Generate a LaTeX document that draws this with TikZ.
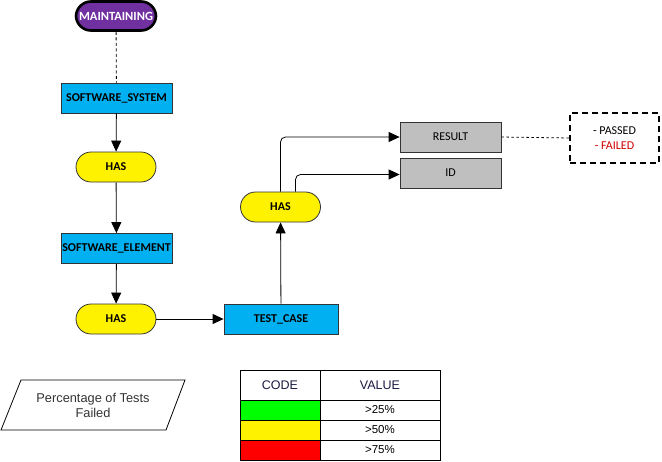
\documentclass[tikz,border=0pt]{standalone}
\usepackage{fontspec}
\setmainfont{Carlito}
\newfontfamily\arialfont{Liberation Sans}
\usetikzlibrary{arrows.meta}
\definecolor{mpurple}{HTML}{7030A0}
\definecolor{mblue}{HTML}{00B0F0}
\definecolor{mgray}{HTML}{BFBFBF}
\definecolor{mborder}{HTML}{333333}
\definecolor{mred}{HTML}{D00000}
\definecolor{navy}{HTML}{1A1A40}
\definecolor{txtgray}{HTML}{333333}
\tikzset{
  base/.style={draw=mborder, line width=0.8pt, inner sep=0pt, align=center,
    font=\fontsize{12}{14}\selectfont\bfseries},
  bluebox/.style={base, fill=mblue, minimum height=30pt},
  pill/.style={base, fill=yellow, rounded corners=15pt, minimum width=80pt, minimum height=30pt},
  graybox/.style={base, fill=mgray, minimum width=101pt, minimum height=30pt, font=\fontsize{12}{14}\selectfont},
  arr/.style={-{Triangle[length=11pt,width=10pt]}, line width=0.8pt, draw=black},
  cell/.style={draw=black, line width=0.8pt, inner sep=0pt, minimum width=80pt,
    font=\arialfont\fontsize{11.5}{13}\selectfont},
}
\begin{document}
\begin{tikzpicture}[x=1pt,y=-1pt]
\useasboundingbox (0,0) rectangle (662,461);
% nodes
\node[base, fill=mpurple, draw=black, line width=2.6pt, rounded corners=15pt,
  minimum width=80pt, minimum height=29pt, text=white, font=\fontsize{12.5}{14}\selectfont\bfseries]
  (maint) at (116,16) {MAINTAINING};
\node[bluebox, minimum width=111pt] (ss) at (116.5,98) {SOFTWARE\_SYSTEM};
\node[pill] (has1) at (116,167) {HAS};
\node[bluebox, minimum width=111pt] (se) at (116.5,248.5) {SOFTWARE\_ELEMENT};
\node[pill] (has2) at (116,319) {HAS};
\node[bluebox, minimum width=114pt] (tc) at (281,319) {TEST\_CASE};
\node[pill] (has3) at (280.5,207) {HAS};
\node[graybox] (result) at (450.5,137) {RESULT};
\node[graybox] (id) at (450.5,173) {ID};
\node[draw=black, line width=1.5pt, dash pattern=on 6pt off 4pt, minimum width=89pt,
  minimum height=50pt, inner sep=0pt, align=center, font=\fontsize{12}{14.5}\selectfont]
  (opts) at (614.5,138) {- PASSED\\\textcolor{mred}{- FAILED}};
% connectors
\draw[line width=0.8pt, dash pattern=on 3pt off 2.5pt] (maint) -- (ss);
\draw[arr] (ss) -- (has1);
\draw[arr] (has1) -- (se);
\draw[arr] (se) -- (has2);
\draw[arr] (has2) -- (tc);
\draw[arr] (tc) -- (has3);
\draw[arr, rounded corners=5pt] (has3.north) |- (result.west);
\draw[arr, rounded corners=5pt] ([xshift=15pt]has3.north) |- ([yshift=-1.5pt]id.west);
\draw[line width=0.8pt, dash pattern=on 2.5pt off 2.5pt] (result.east) -- (opts.west);
% parallelogram
\draw[line width=0.8pt, draw=black] (21,380) -- (185,380) -- (166,430) -- (1,430) -- cycle;
\node[align=center, text=txtgray, font=\arialfont\fontsize{12.8}{15}\selectfont] (pct) at (93,405)
  {Percentage of Tests\\Failed};
% table
\node[cell, minimum height=30pt, text=navy, font=\arialfont\fontsize{12.5}{14}\selectfont] (h1) at (280,385) {CODE};
\node[cell, minimum width=120pt, minimum height=30pt, text=navy, font=\arialfont\fontsize{12.5}{14}\selectfont] (h2) at (380,385) {VALUE};
\node[cell, minimum height=20pt, fill=green] (c1) at (280,410) {};
\node[cell, minimum width=120pt, minimum height=20pt] (v1) at (380,410) {>25\%};
\node[cell, minimum height=20pt, fill=yellow] (c2) at (280,430) {};
\node[cell, minimum width=120pt, minimum height=20pt] (v2) at (380,430) {>50\%};
\node[cell, minimum height=20pt, fill=red] (c3) at (280,450) {};
\node[cell, minimum width=120pt, minimum height=20pt] (v3) at (380,450) {>75\%};
\end{tikzpicture}
\end{document}
